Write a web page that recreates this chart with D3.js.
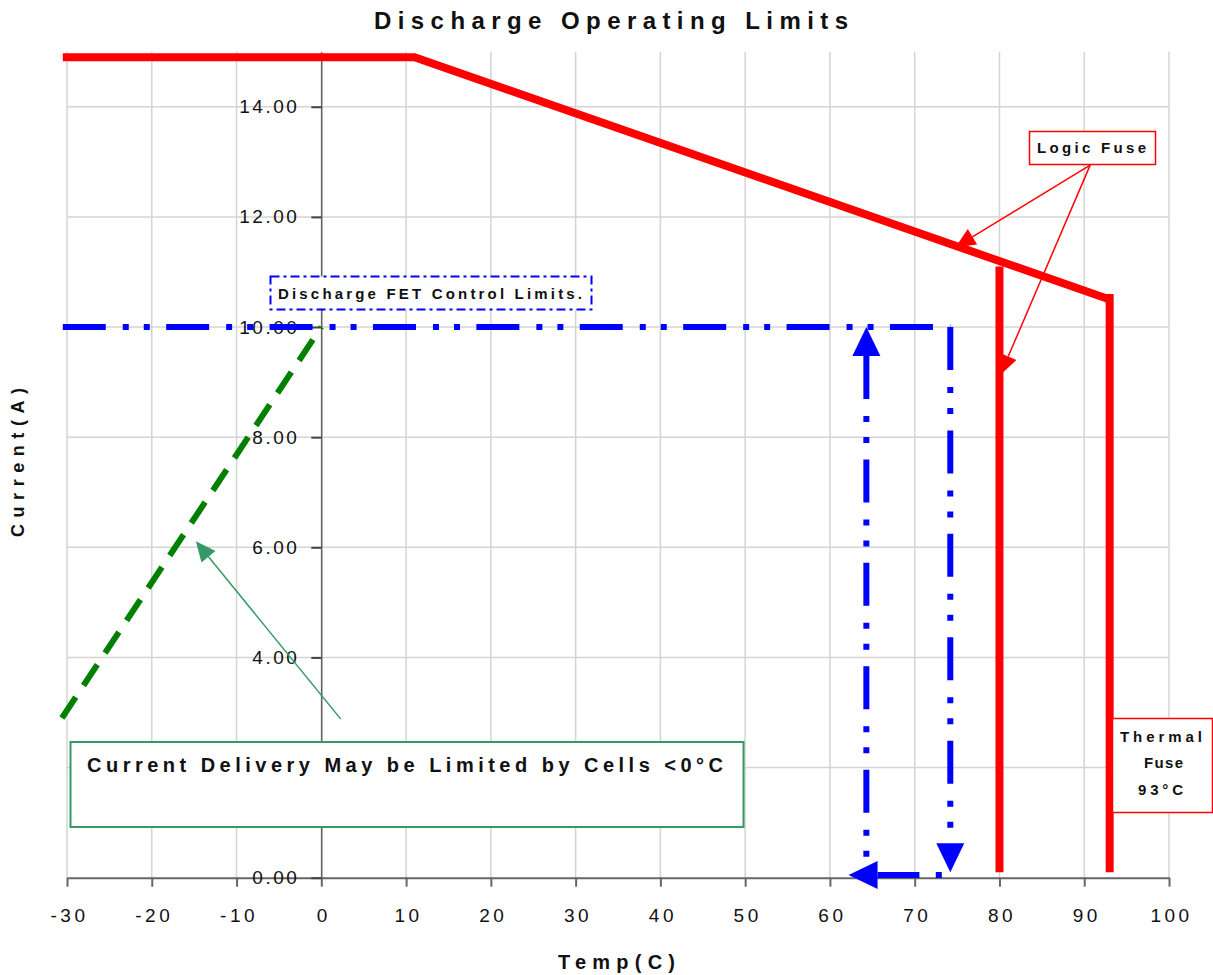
<!DOCTYPE html>
<html><head><meta charset="utf-8">
<script src="https://cdn.jsdelivr.net/npm/d3@7"></script>
<style>
body{margin:0;background:#fff}
svg{display:block}
text{font-family:"Liberation Sans",Arial,Helvetica,sans-serif;fill:#111}
</style>
</head><body>
<svg id="c" width="1213" height="975"></svg>
<script>
// ---------- data ----------
const xTicks = [-30,-20,-10,0,10,20,30,40,50,60,70,80,90,100];
const xTickLabels = ["-30","-20","-10","0","10","20","30","40","50","60","70","80","90","100"];
const yTicks = [0,2,4,6,8,10,12,14];
const yTickLabels = ["0.00","2.00","4.00","6.00","8.00","10.00","12.00","14.00"];
// [Temp(C), Current(A)]
const logicFuseLimit   = [[-30.5,14.9],[11,14.9],[93,10.5]];
const logicFuseCutoff  = [[80,11.1],[80,0.1]];
const thermalFuseCutoff= [[93,10.6],[93,0.1]];
const fetLimit         = [[-30.5,10],[74.2,10]];
const fetDownArrow     = [[74.2,10],[74.2,0.1]];     // head at end
const fetReturnArrow   = [[73.2,0.05],[62.2,0.05]];  // head at end
const fetUpArrow       = [[64.3,10],[64.3,0.05]];    // head at start
const cellLimit        = [[-30.6,2.9],[0,10]];
const cellCallout      = [[2.3,2.88],[-14.8,6.11]];  // head at end
const logicFuseCallouts= [[[90.7,12.94],[74.8,11.45]],[[90.7,12.94],[80.1,9.13]]];

// ---------- chart ----------
const svg = d3.select("#c");
const x = d3.scaleLinear().domain([-30,100]).range([67,1169]);
const y = d3.scaleLinear().domain([0,15]).range([877.7,51.7]);
const line = d3.line().x(d=>x(d[0])).y(d=>y(d[1]));

// callout box region (pixels) – labels hidden under it are not drawn
const cellBox = {x:70.5,y:742,w:673,h:85};

// grid
svg.append("g").selectAll("line").data(xTicks).join("line")
  .attr("x1",d=>x(d)).attr("x2",d=>x(d)).attr("y1",y(15)).attr("y2",y(0))
  .attr("stroke","#d4d4d4").attr("stroke-width",1.5);
svg.append("g").selectAll("line").data(yTicks.filter(d=>d>0)).join("line")
  .attr("x1",x(-30)).attr("x2",x(100)).attr("y1",d=>y(d)).attr("y2",d=>y(d))
  .attr("stroke","#d4d4d4").attr("stroke-width",1.5);

// x axis
const xAxis = svg.append("g").attr("transform",`translate(0,${y(0)})`)
  .call(d3.axisBottom(x).tickValues(xTicks).tickSize(9).tickSizeOuter(0).tickPadding(22)
    .tickFormat((d,i)=>xTickLabels[i]));
xAxis.select(".domain").attr("stroke","#666").attr("stroke-width",2);
xAxis.selectAll(".tick line").attr("stroke","#666").attr("stroke-width",2);
xAxis.selectAll("text").attr("font-size",19).attr("letter-spacing","3.5px").attr("dx","2px")
  .attr("fill","#111").style("font-family",'"Liberation Sans",Arial,sans-serif');

// y axis
const yAxis = svg.append("g").attr("transform",`translate(${x(0)},0)`)
  .call(d3.axisLeft(y).tickValues(yTicks).tickSize(10).tickSizeOuter(0).tickPadding(20)
    .tickFormat((d,i)=>yTickLabels[i]));
yAxis.select(".domain").attr("stroke","#444").attr("stroke-width",1.2);
yAxis.selectAll(".tick line").attr("stroke","#444").attr("stroke-width",2);
yAxis.selectAll("text").attr("font-size",19).attr("letter-spacing","2.5px").attr("dx","8px")
  .attr("fill","#111").style("font-family",'"Liberation Sans",Arial,sans-serif');
// the 2.00 label sits beneath the opaque callout box in the reference
yAxis.selectAll(".tick text").filter(d=>y(d)>cellBox.y && y(d)<cellBox.y+cellBox.h).remove();

// helpers
function arrow(g, p0, p1, o){
  const a=[x(p0[0]),y(p0[1])], b=[x(p1[0]),y(p1[1])];
  const dx=b[0]-a[0], dy=b[1]-a[1], L=Math.hypot(dx,dy), u=[dx/L,dy/L], n=[-u[1],u[0]];
  let s=a, e=b, tip, base;
  if(o.headStart){ tip=a; base=[a[0]+u[0]*o.len,a[1]+u[1]*o.len]; s=base; }
  else { tip=b; base=[b[0]-u[0]*o.len,b[1]-u[1]*o.len]; e=base; }
  const p=g.append("line").attr("x1",s[0]).attr("y1",s[1]).attr("x2",e[0]).attr("y2",e[1])
    .attr("stroke",o.color).attr("stroke-width",o.width);
  if(o.dash){ p.attr("stroke-dasharray",o.dash); if(o.offset) p.attr("stroke-dashoffset",o.offset); }
  const pts=[tip,[base[0]+n[0]*o.hw,base[1]+n[1]*o.hw],[base[0]-n[0]*o.hw,base[1]-n[1]*o.hw]];
  g.append("polygon").attr("points",pts.map(q=>q.join(",")).join(" ")).attr("fill",o.color);
}

const blueDash = "43,17,6,15,6,16.4";
const marks = svg.append("g");

// green cell limit
marks.append("path").datum(cellLimit).attr("d",line).attr("fill","none")
  .attr("stroke","#008000").attr("stroke-width",6).attr("stroke-dasharray","25,14");

// blue FET limit
marks.append("path").datum(fetLimit).attr("d",line).attr("fill","none")
  .attr("stroke","#0000ff").attr("stroke-width",6).attr("stroke-dasharray",blueDash);
arrow(marks, fetDownArrow[0], fetDownArrow[1], {color:"#0000ff",width:6,dash:blueDash,len:29,hw:14});
arrow(marks, fetReturnArrow[0], fetReturnArrow[1], {color:"#0000ff",width:6,dash:blueDash,offset:81,len:29,hw:14});
arrow(marks, fetUpArrow[0], fetUpArrow[1], {color:"#0000ff",width:6,dash:blueDash,len:29,hw:14,headStart:true});

// red limits
marks.append("path").datum(logicFuseLimit).attr("d",line).attr("fill","none")
  .attr("stroke","#ff0000").attr("stroke-width",8).attr("stroke-linejoin","miter");
[logicFuseCutoff, thermalFuseCutoff].forEach(s=>
  marks.append("path").datum(s).attr("d",line).attr("fill","none")
    .attr("stroke","#ff0000").attr("stroke-width",8));

// callout arrows
logicFuseCallouts.forEach(c=>arrow(marks,c[0],c[1],{color:"#ff0000",width:1.5,len:20,hw:9}));
arrow(marks, cellCallout[0], cellCallout[1], {color:"#339966",width:1.5,len:20,hw:9});

// ---------- annotation boxes ----------
function fitText(t, w){ t.attr("textLength",w).attr("lengthAdjust","spacing"); return t; }
const ann = svg.append("g");

// Discharge FET box
ann.append("rect").attr("x",270.5).attr("y",276.5).attr("width",321).attr("height",33)
  .attr("fill","#fff").attr("stroke","#0000ff").attr("stroke-width",2).attr("stroke-dasharray","9,4,3,4");
fitText(ann.append("text").attr("x",278).attr("y",299).attr("font-size",15).attr("font-weight","bold")
  .text("Discharge FET Control Limits."),304);

// Logic fuse box
ann.append("rect").attr("x",1029.5).attr("y",131.5).attr("width",126).attr("height",33)
  .attr("fill","#fff").attr("stroke","#ff0000").attr("stroke-width",1.5);
fitText(ann.append("text").attr("x",1037).attr("y",153).attr("font-size",15).attr("font-weight","bold")
  .text("Logic Fuse"),109);

// Thermal fuse box
ann.append("rect").attr("x",1112.5).attr("y",718.5).attr("width",100).attr("height",94)
  .attr("fill","#fff").attr("stroke","#ff0000").attr("stroke-width",1.5);
[["Thermal",1120,742,82],["Fuse",1144,768,39],["93°C",1138,795,45]].forEach(r=>
  fitText(ann.append("text").attr("x",r[1]).attr("y",r[2]).attr("font-size",15).attr("font-weight","bold").text(r[0]),r[3]));

// Cell box
ann.append("rect").attr("x",cellBox.x).attr("y",cellBox.y).attr("width",cellBox.w).attr("height",cellBox.h)
  .attr("fill","#fff").attr("stroke","#339966").attr("stroke-width",2);
fitText(ann.append("text").attr("x",87).attr("y",772).attr("font-size",20).attr("font-weight","bold")
  .text("Current Delivery May be Limited by Cells <0°C"),636);

// titles
fitText(svg.append("text").attr("x",374).attr("y",29).attr("font-size",24).attr("font-weight","bold")
  .text("Discharge Operating Limits"),474);
fitText(svg.append("text").attr("x",558).attr("y",969).attr("font-size",20).attr("font-weight","bold")
  .text("Temp(C)"),117);
fitText(svg.append("text").attr("transform","translate(24,537) rotate(-90)").attr("font-size",18).attr("font-weight","bold")
  .text("Current(A)"),149);
</script>
</body></html>
